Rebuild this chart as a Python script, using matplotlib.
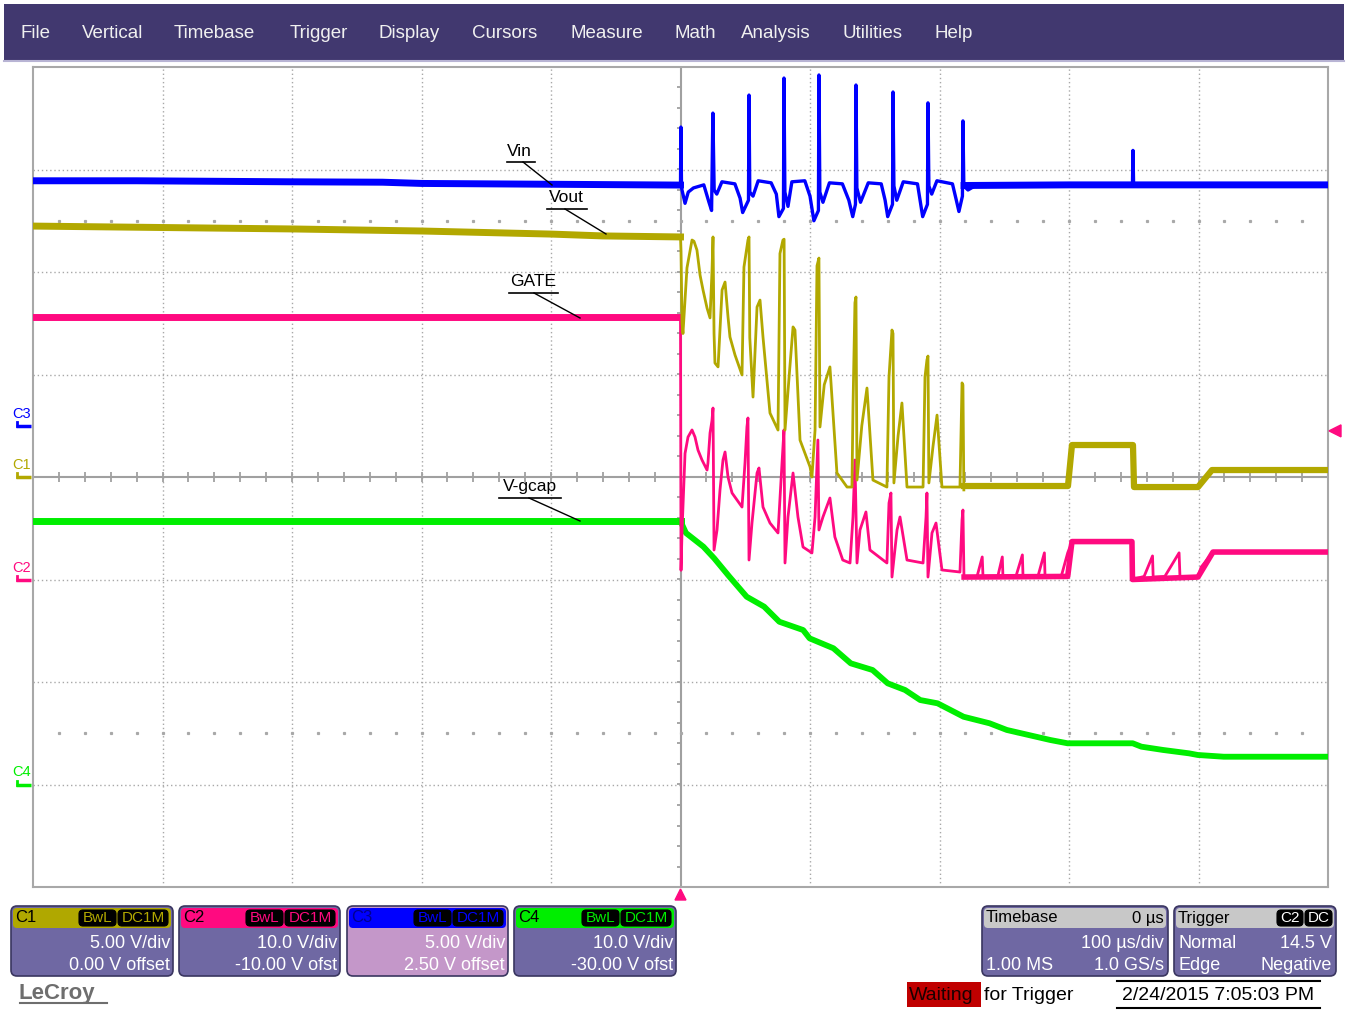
import numpy as np
import matplotlib.pyplot as plt
from matplotlib.patches import FancyBboxPatch, Polygon, Rectangle

plt.rcParams['font.family'] = ['Liberation Sans', 'DejaVu Sans']

W, H = 1348, 1010

# acquisition settings
us_per_div = 100.0
volts_per_div = {'C1': 5.0, 'C2': 10.0, 'C3': 5.0, 'C4': 10.0}
offset = {'C1': 0.0, 'C2': -10.0, 'C3': 2.5, 'C4': -30.0}
trig_level = 14.5  # on C2, negative edge
colors = {'C1': '#b2a800', 'C2': '#ff0a80', 'C3': '#0000ff', 'C4': '#00ee00'}

# C3 - Vin (time in us, volts)
vin_pre_t = [-500, -420, -300, -230, -200, -100, 0]
vin_pre_v = [11.95, 11.95, 11.9, 11.88, 11.82, 11.78, 11.74]
vin_t = [0, 0.3, 0.8, 3.5, 6, 10, 18, 22, 24, 25, 26, 28, 32, 42, 46, 48, 52.5, 52.9, 53.5,
         56, 60, 70, 74, 76, 79.5, 79.9, 80.6, 83, 86, 96, 100, 103, 106.5, 106.9, 107.6,
         110, 115, 125, 130, 133, 135.1, 135.5, 136.2, 139, 145, 155, 158, 160, 163.7, 164.1,
         164.8, 167, 172, 183, 185, 187, 190.7, 191.1, 191.8, 194, 198, 210, 213, 215, 217.7,
         218.1, 218.8, 222, 230, 300, 349, 349.4, 349.9, 400, 500]
vin_v = [11.74, 14.57, 11.6, 10.85, 11.4, 11.6, 11.75, 10.9, 10.5, 15.25, 11.5, 11.3, 11.9,
         11.8, 11.1, 10.4, 11.0, 16.13, 11.4, 11.2, 11.95, 11.85, 11.3, 10.2, 10.6, 16.96,
         11.4, 10.7, 11.9, 11.95, 11.2, 10.0, 10.5, 17.11, 11.4, 10.9, 11.85, 11.8, 11.0,
         10.2, 10.8, 16.62, 11.6, 10.9, 11.85, 11.8, 11.0, 10.2, 10.8, 16.28, 11.7, 11.0,
         11.9, 11.8, 11.0, 10.2, 10.8, 15.75, 11.7, 11.3, 11.95, 11.8, 11.0, 10.45, 11.2,
         14.87, 11.7, 11.5, 11.8, 11.75, 11.75, 13.43, 11.75, 11.8, 11.75]
vin_rest_t = [219, 300, 500]
vin_rest_v = [11.72, 11.75, 11.75]

# C1 - Vout
vout_pre_t = [-500, -300, -200, -100, -60, 0]
vout_pre_v = [12.24, 12.1, 12.0, 11.85, 11.76, 11.71]
vout_t = [0.0, 0.4, 1.2, 1.9, 5.0, 8.9, 10.4, 12.7, 15.1, 17.4, 20.5, 22.8, 24.3, 25.1, 25.9,
          26.6, 29.0, 32.1, 34.4, 36.7, 38.2, 42.1, 47.5, 49.0, 52.1, 52.9, 53.5, 56.0, 59.1,
          61.4, 63.7, 69.1, 75.3, 76.8, 79.1, 80.0, 80.7, 84.0, 86.9, 88.4, 92.3, 100.0,
          101.5, 103.9, 105.4, 106.9, 107.7, 111.0, 115.4, 120.8, 128.6, 132.4, 133.2, 134.7,
          135.5, 136.3, 140.0, 144.0, 148.6, 159.4, 161.0, 163.3, 164.1, 164.8, 168.0, 171.0,
          174.9, 187.3, 188.8, 190.3, 191.1, 191.8, 195.0, 198.1, 201.9, 215.8, 217.4, 218.1,
          218.8]
vout_v = [11.71, 11.0, 7.5, 7.0, 10.2, 11.56, 11.5, 11.07, 9.85, 9.12, 8.24, 7.76, 10.0, 11.71,
          7.0, 5.56, 5.37, 9.12, 9.51, 7.80, 6.83, 5.95, 4.98, 10.24, 11.56, 11.71, 6.8, 3.90,
          8.29, 8.63, 6.83, 3.12, 2.29, 10.9, 11.56, 11.6, 2.29, 5.0, 7.32, 7.17, 1.80, 0.5,
          0.0, 2.29, 10.3, 10.68, 2.44, 4.5, 5.37, 0.20, -0.49, -0.49, 3.41, 8.5, 8.78, -0.15,
          2.5, 4.34, -0.15, -0.49, 4.88, 7.17, 7.0, -0.29, 2.0, 3.61, -0.49, -0.49, 4.88, 5.71,
          5.9, -0.29, 1.5, 3.02, -0.49, -0.49, 4.59, 4.49, -0.63]
vout_rest_t = [218.8, 299.2, 302.3, 349.4, 350.2, 399.6, 410.4, 500]
vout_rest_v = [-0.44, -0.44, 1.56, 1.56, -0.49, -0.49, 0.34, 0.34]

# C2 - GATE
gate_pre_t = [-500, 0]
gate_pre_v = [25.6, 25.6]
gate_t = [0.0, 0.4, 1.2, 3.5, 5.8, 8.9, 11.2, 13.5, 16.6, 20.5, 21.2, 22.8, 24.3, 25.1, 25.9,
          28.2, 30.5, 32.8, 34.4, 36.7, 39.8, 47.5, 49.8, 51.3, 52.1, 52.9, 55.2, 59.1, 60.6,
          63.7, 69.1, 75.3, 78.4, 79.9, 80.7, 83.0, 86.9, 90.7, 94.6, 101.5, 103.9, 106.1,
          106.9, 110.0, 115.4, 119.2, 125.3, 130.9, 133.2, 134.7, 136.3, 138.6, 143.2, 146.3,
          159.4, 161.0, 162.5, 163.3, 167.2, 169.5, 174.9, 187.3, 189.6, 190.3, 191.1, 194.2,
          197.3, 201.9, 215.8, 217.4, 218.1, 218.9, 229.0, 233.0, 233.6, 245.0, 248.5, 249.0,
          259.0, 264.0, 264.5, 276.0, 281.0, 281.5, 294.0, 299.0, 302.3, 348.6, 349.0, 358.0,
          364.5, 365.0, 374.0, 385.0, 385.7, 399.6, 402.0, 411.2, 500]
gate_v = [25.6, 0.9, 4.8, 12.3, 13.9, 14.59, 13.9, 12.63, 11.66, 10.68, 11.37, 14.29, 15.5,
          16.73, 2.88, 4.83, 8.73, 11.66, 12.44, 9.99, 8.44, 7.07, 11.37, 14.88, 15.76, 1.90,
          5.51, 10.39, 10.88, 7.07, 5.51, 4.54, 11.37, 14.59, 1.61, 6.10, 10.39, 6.10, 3.17,
          2.59, 6.10, 13.61, 4.83, 6.10, 7.95, 4.15, 1.90, 1.61, 6.10, 11.66, 1.61, 4.83, 6.59,
          2.88, 1.61, 7.46, 8.44, 0.24, 4.83, 6.10, 1.90, 1.61, 6.10, 8.44, 0.24, 4.54, 5.51,
          0.93, 0.73, 5.80, 6.78, 0.24, 0.3, 2.2, 0.24, 0.3, 2.2, 0.24, 0.3, 2.4, 0.24, 0.3,
          2.6, 0.24, 0.3, 2.6, 3.7, 3.7, 0.0, 0.3, 2.3, 0.24, 0.3, 2.6, 0.24, 0.24, 1.2, 2.68,
          2.68]
gate_rest_t = [219, 299, 302.3, 348.6, 349.0, 399.6, 411.2, 500]
gate_rest_v = [0.24, 0.3, 3.7, 3.7, 0.0, 0.24, 2.68, 2.68]

# C4 - V-gcap
gcap_pre_t = [-500, 0]
gcap_pre_v = [25.7, 25.7]
gcap_t = [0.0, 0.2, 4.2, 17.7, 26.0, 37.8, 51.1, 64.6, 76.3, 94.7, 99.7, 118.1, 131.5, 148.3,
          160.0, 173.4, 185.1, 198.5, 218.6, 238.7, 252.0, 268.8, 285.6, 298.9, 319.0, 349.2,
          355.9, 372.6, 392.7, 399.4, 419.5, 500]
gcap_v = [25.7, 25.64, 24.54, 23.20, 22.07, 20.27, 18.32, 17.35, 15.88, 15.07, 14.26, 13.29,
          11.82, 11.17, 9.87, 9.22, 8.24, 7.92, 6.61, 5.97, 5.32, 4.83, 4.34, 4.02, 4.02, 4.02,
          3.69, 3.37, 3.04, 2.88, 2.71, 2.71]

labels = [('Vin', 519, 151, 507, 535, 523, 552, 185),
          ('Vout', 566, 198, 547, 587, 565, 606, 234),
          ('GATE', 533, 282, 509, 558, 534, 580, 318),
          ('V-gcap', 530, 487, 499, 561, 529, 580, 521)]


def to_div(ch, v):
    return (np.asarray(v) + offset[ch]) / volts_per_div[ch]


fig = plt.figure(figsize=(W / 100, H / 100), dpi=100)
fig.patch.set_facecolor('white')

# ---- graticule ----
ax = fig.add_axes([33 / W, 1 - 887 / H, 1295 / W, 820 / H], zorder=1)
ax.set_xlim(-5 * us_per_div, 5 * us_per_div)
ax.set_ylim(-4, 4)
ax.set_xticks([])
ax.set_yticks([])
for s in ax.spines.values():
    s.set_color('#a8a8a8')
    s.set_linewidth(1.5)

grid_kw = dict(color='#a8a8a8', lw=1.0, ls=(0, (1, 2)), zorder=1)
for k in range(-4, 5):
    if k:
        ax.axvline(k * us_per_div, **grid_kw)
for k in range(-3, 4):
    if k:
        ax.axhline(k, **grid_kw)
ax.axhline(0, color='#a0a0a0', lw=1.5, zorder=1)
ax.axvline(0, color='#a0a0a0', lw=1.5, zorder=1)

minor_t = np.arange(-480, 500, 20)
minor_y = np.arange(-3.8, 4.0, 0.2)
ax.vlines(minor_t, -0.045, 0.045, color='#a0a0a0', lw=1.3, zorder=1)
ax.hlines(minor_y, -3.0, 1.5, color='#a0a0a0', lw=1.3, zorder=1)
for yy in (2.5, -2.5):
    ax.plot(minor_t, np.full(minor_t.shape, yy), ls='none', marker='s', ms=1.3,
            color='#a8a8a8', zorder=1)

# ---- traces ----
band, thin = 5.0, 2.0
ax.plot(gcap_pre_t, to_div('C4', gcap_pre_v), color=colors['C4'], lw=band, zorder=3)
ax.plot(gcap_t, to_div('C4', gcap_v), color=colors['C4'], lw=4.2, zorder=3)

ax.plot(gate_pre_t, to_div('C2', gate_pre_v), color=colors['C2'], lw=band, zorder=3)
ax.plot(gate_t, to_div('C2', gate_v), color=colors['C2'], lw=thin, zorder=3)
ax.plot(gate_rest_t, to_div('C2', gate_rest_v), color=colors['C2'], lw=4.0, zorder=3)

ax.plot(vout_pre_t, to_div('C1', vout_pre_v), color=colors['C1'], lw=band, zorder=4)
ax.plot(vout_t, to_div('C1', vout_v), color=colors['C1'], lw=thin, zorder=4)
ax.plot(vout_rest_t, to_div('C1', vout_rest_v), color=colors['C1'], lw=4.5, zorder=4)

ax.plot(vin_pre_t, to_div('C3', vin_pre_v), color=colors['C3'], lw=band, zorder=4)
ax.plot(vin_t, to_div('C3', vin_v), color=colors['C3'], lw=2.4, zorder=4)
ax.plot(vin_rest_t, to_div('C3', vin_rest_v), color=colors['C3'], lw=band, zorder=4)

# ---- screen furniture in pixel coordinates ----
ui = fig.add_axes([0, 0, 1, 1], zorder=2)
ui.set_xlim(0, W)
ui.set_ylim(H, 0)
ui.axis('off')
ui.patch.set_alpha(0)

ui.add_patch(Rectangle((4, 4), 1340, 56, fc='#41386f', ec='none'))
ui.plot([4, 1344], [61, 61], color='#b8b4d4', lw=1.5)
menu = [('File', 21), ('Vertical', 82), ('Timebase', 174), ('Trigger', 290), ('Display', 379),
        ('Cursors', 472), ('Measure', 570), ('Math', 674), ('Analysis', 741),
        ('Utilities', 842), ('Help', 934)]
for name, x in menu:
    ui.text(x, 33, name, color='#f0f0f0', fontsize=13.5, va='center', ha='left')

# channel ground markers on the left edge
for ch in ('C3', 'C1', 'C2', 'C4'):
    yp = 477 - to_div(ch, 0.0) * 102.5
    ui.text(12, yp - 12, ch, color=colors[ch], fontsize=10.5, va='center', ha='left')
    ui.plot([16, 31], [yp, yp], color=colors[ch], lw=2.5, solid_capstyle='butt')
    ui.plot([17, 17], [yp, yp - 4], color=colors[ch], lw=2.0)

# trigger position and level markers
ui.add_patch(Polygon([[675, 900], [686, 900], [680.5, 889]], color=colors['C2']))
trig_y = 477 - to_div('C2', trig_level) * 102.5
ui.add_patch(Polygon([[1329, trig_y], [1341, trig_y - 6], [1341, trig_y + 6]], color=colors['C2']))

# trace labels with leader lines
for text, tx, ty, ux0, ux1, lx0, lx1, ly1 in labels:
    ui.text(tx, ty, text, fontsize=12.5, ha='center', va='center', color='black')
    uy = ty + 11
    ui.plot([ux0, ux1], [uy, uy], color='black', lw=1.2)
    ui.plot([lx0, lx1], [uy, ly1], color='black', lw=1.0)


def tag(x0, x1, y0, text, fg):
    ui.add_patch(FancyBboxPatch((x0, y0), x1 - x0, 16, boxstyle='round,pad=0,rounding_size=4',
                                fc='black', ec='black', lw=0.8))
    ui.text((x0 + x1) / 2, y0 + 8.5, text, color=fg, fontsize=11, ha='center', va='center')


def panel(x0, x1, header_fc, title, title_color, body_fc='#6f68a3'):
    ui.add_patch(FancyBboxPatch((x0, 906), x1 - x0, 70, boxstyle='round,pad=0,rounding_size=6',
                                fc=body_fc, ec='#3a3660', lw=1.2))
    ui.add_patch(FancyBboxPatch((x0 + 2, 908), x1 - x0 - 4, 20,
                                boxstyle='round,pad=0,rounding_size=4', fc=header_fc, ec='none'))
    ui.text(x0 + 4, 918, title, color=title_color, fontsize=12, va='center', ha='left')


channel_boxes = [('C1', 11, 173, '5.00 V/div', '0.00 V offset', 'black', '#6f68a3'),
                 ('C2', 179, 340, '10.0 V/div', '-10.00 V ofst', 'black', '#6f68a3'),
                 ('C3', 347, 508, '5.00 V/div', '2.50 V offset', '#000090', '#c497c9'),
                 ('C4', 514, 676, '10.0 V/div', '-30.00 V ofst', 'black', '#6f68a3')]
for ch, x0, x1, l1, l2, tc, body in channel_boxes:
    panel(x0, x1, colors[ch] if ch != 'C1' else '#b0a800', ch, tc, body)
    tag(x1 - 94, x1 - 57, 910, 'BwL', colors[ch])
    tag(x1 - 55, x1 - 5, 910, 'DC1M', colors[ch])
    ui.text(x1 - 3, 943, l1, color='white', fontsize=13, ha='right', va='center')
    ui.text(x1 - 3, 965, l2, color='white', fontsize=13, ha='right', va='center')

panel(982, 1168, '#c8c8c8', 'Timebase', 'black')
ui.text(1164, 918, '0 µs', color='black', fontsize=12, ha='right', va='center')
ui.text(1164, 943, '100 µs/div', color='white', fontsize=13, ha='right', va='center')
ui.text(986, 965, '1.00 MS', color='white', fontsize=13, ha='left', va='center')
ui.text(1164, 965, '1.0 GS/s', color='white', fontsize=13, ha='right', va='center')

panel(1174, 1336, '#c8c8c8', 'Trigger', 'black')
tag(1277, 1303, 910, 'C2', 'white')
tag(1305, 1332, 910, 'DC', 'white')
ui.text(1178, 943, 'Normal', color='white', fontsize=13, ha='left', va='center')
ui.text(1332, 943, '14.5 V', color='white', fontsize=13, ha='right', va='center')
ui.text(1178, 965, 'Edge', color='white', fontsize=13, ha='left', va='center')
ui.text(1332, 965, 'Negative', color='white', fontsize=13, ha='right', va='center')

# status line
ui.text(19, 993, 'LeCroy', color='#6e6e6e', fontsize=16, fontweight='bold', ha='left', va='center')
ui.plot([20, 107], [1003, 1003], color='#6e6e6e', lw=1.5)
ui.add_patch(Rectangle((907, 982), 74, 25, fc='#c00000', ec='none'))
ui.text(909, 995, 'Waiting', color='#1a0000', fontsize=14, ha='left', va='center')
ui.text(984, 995, 'for Trigger', color='black', fontsize=14, ha='left', va='center')
ui.text(1218, 995, '2/24/2015 7:05:03 PM', color='black', fontsize=14, ha='center', va='center')
ui.plot([1117, 1320], [981, 981], color='black', lw=1.5)
ui.plot([1117, 1320], [1008, 1008], color='black', lw=1.5)

fig.savefig('out.png', dpi=100)
